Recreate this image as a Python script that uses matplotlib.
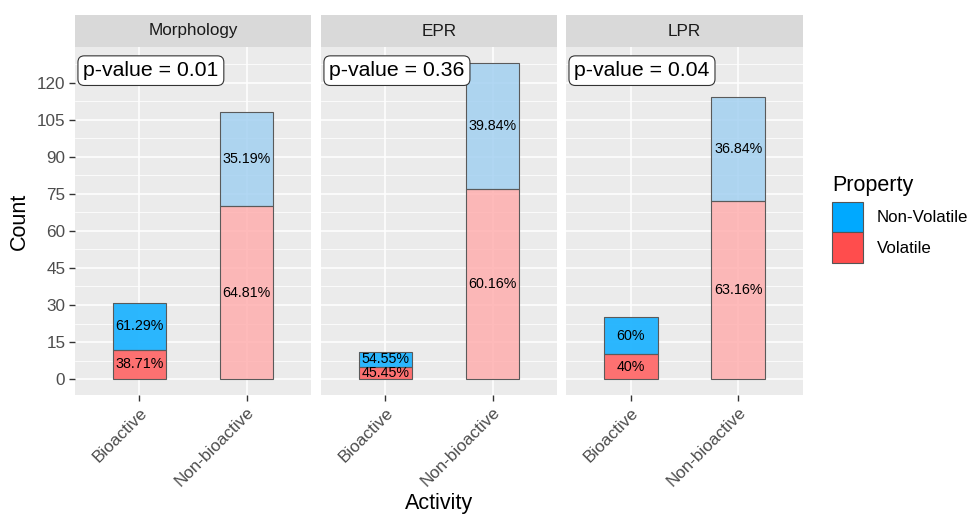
import numpy as np
import matplotlib.pyplot as plt
from matplotlib.patches import Patch

# counts per facet: [Bioactive, Non-bioactive]
facets = ['Morphology', 'EPR', 'LPR']
activity = ['Bioactive', 'Non-bioactive']
volatile = [[12, 70], [5, 77], [10, 72]]
non_volatile = [[19, 38], [6, 51], [15, 42]]
p_values = ['0.01', '0.36', '0.04']

col_nv = '#00A9FF'
col_v = '#FF4D4D'
# fills: bioactive strong, non-bioactive faded
fill_v = ['#FF6A6A', '#FFACAC']
fill_nv = ['#20B4FF', '#A0CFF1']
fill_alpha = [0.95, 0.82]

plt.rcParams['font.family'] = ['Liberation Sans', 'DejaVu Sans']

fig = plt.figure(figsize=(9.69, 5.14), dpi=100)
W, H = 969, 514

# panel positions in pixels (left, right)
panel_x = [(75, 311), (321, 557), (566, 803)]
top, bottom = 47, 395
strip_top = 15

for i, name in enumerate(facets):
    x0, x1 = panel_x[i]
    ax = fig.add_axes([x0 / W, 1 - bottom / H, (x1 - x0) / W, (bottom - top) / H])
    ax.set_facecolor('#EBEBEB')
    for s in ax.spines.values():
        s.set_visible(False)
    ax.set_xlim(0.4, 2.6)
    ax.set_ylim(-6.4, 134.4)
    ax.set_yticks(np.arange(0, 121, 15))
    ax.set_yticks(np.arange(7.5, 128, 15), minor=True)
    ax.set_xticks([1, 2])
    ax.grid(True, which='major', color='white', lw=1.1)
    ax.grid(True, which='minor', axis='y', color='white', lw=0.55)
    ax.set_axisbelow(True)
    ax.tick_params(axis='both', which='major', color='#333333', length=4, width=1,
                   labelsize=12.3, labelcolor='#4D4D4D', pad=3)
    ax.tick_params(axis='y', which='minor', length=0)
    ax.set_xticklabels(activity, rotation=45, ha='right', rotation_mode='anchor')
    if i > 0:
        ax.tick_params(axis='y', which='both', left=False, labelleft=False)

    for j in range(2):
        v = volatile[i][j]
        nv = non_volatile[i][j]
        tot = v + nv
        ax.bar(j + 1, v, width=0.5, color=fill_v[j], alpha=fill_alpha[j], zorder=3)
        ax.bar(j + 1, nv, bottom=v, width=0.5, color=fill_nv[j], alpha=fill_alpha[j], zorder=3)
        ax.bar(j + 1, v, width=0.5, fill=False, edgecolor='#5A5A5A', lw=0.8, zorder=4)
        ax.bar(j + 1, nv, bottom=v, width=0.5, fill=False, edgecolor='#5A5A5A', lw=0.8, zorder=4)
        pv = round(100 * v / tot, 2)
        pnv = round(100 * nv / tot, 2)
        ax.text(j + 1, v / 2, f'{pv:g}%', ha='center', va='center', fontsize=10.3, zorder=5)
        ax.text(j + 1, v + nv / 2, f'{pnv:g}%', ha='center', va='center', fontsize=10.3, zorder=5)

    ax.text(0.035, 0.932, f'p-value = {p_values[i]}', transform=ax.transAxes,
            ha='left', va='center', fontsize=15.3, zorder=6,
            bbox=dict(boxstyle='round,pad=0.25,rounding_size=0.3', fc='white',
                      ec='#333333', lw=0.8))

    # facet strip
    sax = fig.add_axes([x0 / W, 1 - top / H, (x1 - x0) / W, (top - strip_top) / H])
    sax.set_facecolor('#D9D9D9')
    sax.set_xticks([])
    sax.set_yticks([])
    for s in sax.spines.values():
        s.set_visible(False)
    sax.text(0.5, 0.5, name, ha='center', va='center', fontsize=12.3, color='#1A1A1A',
             transform=sax.transAxes)

fig.text(19 / W, 1 - 221 / H, 'Count', rotation=90, ha='center', va='center', fontsize=15.5)
fig.text(439 / W, 1 - 503 / H, 'Activity', ha='center', va='center', fontsize=15.5)

handles = [Patch(facecolor=col_nv, edgecolor='#555555', lw=0.8, label='Non-Volatile'),
           Patch(facecolor=col_v, edgecolor='#555555', lw=0.8, label='Volatile')]
leg = fig.legend(handles=handles, title='Property', loc='upper left',
                 bbox_to_anchor=(832 / W, 1 - 175 / H), frameon=False,
                 fontsize=12.2, title_fontsize=15.5, handlelength=1.85, handleheight=2.4,
                 handletextpad=0.8, labelspacing=0.0, borderaxespad=0, borderpad=0)
leg._legend_box.align = 'left'
leg._legend_box.sep = 4

fig.savefig('out.png', dpi=100)
